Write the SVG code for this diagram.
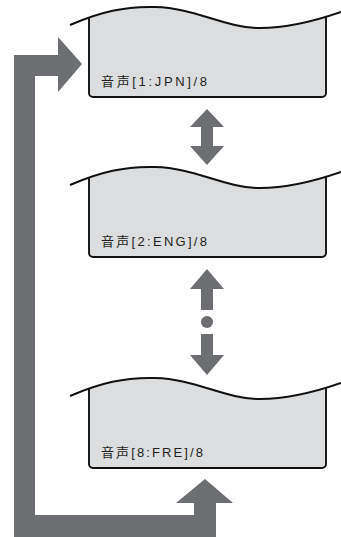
<svg xmlns="http://www.w3.org/2000/svg" xmlns:xlink="http://www.w3.org/1999/xlink" width="341" height="537" viewBox="0 0 341 537">
<style>
.body{fill:#dcdddf}
.outline{fill:none;stroke:#111;stroke-width:1.9}
.wave{fill:none;stroke:#111;stroke-width:2}
.lbl{font-family:"Liberation Sans","Noto Sans CJK JP",sans-serif;font-size:13px;fill:#231f20}
.arrow{fill:#6d6e71}
</style>
<defs>
<path id="wave" d="M70,25 C100,12 125,6 155,7 C195,8 225,28 260,28 C290,28 318,20 341,12"/>
<clipPath id="below"><path d="M70,25 C100,12 125,6 155,7 C195,8 225,28 260,28 C290,28 318,20 341,12 L341,120 L70,120 Z"/></clipPath>
</defs>
<g id="node1">
<rect class="body" x="89" y="0" width="237" height="97" rx="4" clip-path="url(#below)"/>
<rect class="outline" x="89" y="0" width="237" height="97" rx="4" clip-path="url(#below)"/>
<use xlink:href="#wave" class="wave"/>
<text class="lbl" x="101" y="86" textLength="106" lengthAdjust="spacing">音声[1:JPN]/8</text>
</g>
<g id="node2" transform="translate(0,160)">
<rect class="body" x="89" y="0" width="237" height="97" rx="4" clip-path="url(#below)"/>
<rect class="outline" x="89" y="0" width="237" height="97" rx="4" clip-path="url(#below)"/>
<use xlink:href="#wave" class="wave"/>
<text class="lbl" x="101" y="86" textLength="106" lengthAdjust="spacing">音声[2:ENG]/8</text>
</g>
<g id="node3" transform="translate(0,371)">
<rect class="body" x="89" y="0" width="237" height="97" rx="4" clip-path="url(#below)"/>
<rect class="outline" x="89" y="0" width="237" height="97" rx="4" clip-path="url(#below)"/>
<use xlink:href="#wave" class="wave"/>
<text class="lbl" x="101" y="86" textLength="102" lengthAdjust="spacing">音声[8:FRE]/8</text>
</g>
<g id="connectors">
<polygon class="arrow" points="207,109 224,127 213,127 213,146 224,146 207,165 190,146 201,146 201,127 190,127"/>
<polygon class="arrow" points="207,269 224,289 213,289 213,310 201,310 201,289 190,289"/>
<circle class="arrow" cx="207" cy="322" r="6"/>
<polygon class="arrow" points="201,334 213,334 213,355 224,355 207,375 190,355 201,355"/>
<polygon class="arrow" points="14,537 14,55 58,55 58,37 82,64 58,92 58,76 35,76 35,515 194,515 194,503 176,503 205,479 233,503 216,503 216,537"/>
</g>
</svg>
